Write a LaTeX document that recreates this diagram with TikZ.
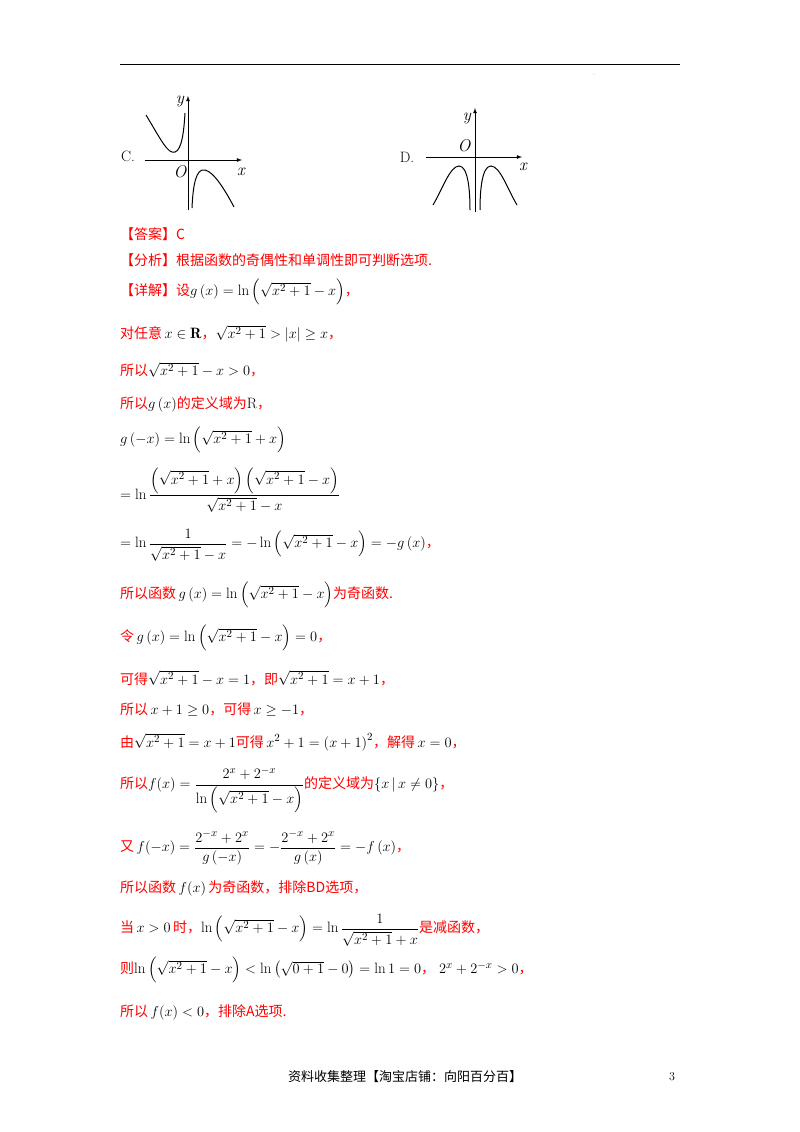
\documentclass[tikz,border=0pt]{standalone}
\usepackage{fontspec}
\usepackage{amsmath}
\newfontfamily\cjk{Noto Sans CJK SC}
\newcommand\rt[1]{\textcolor{red}{\cjk\fontsize{14}{17}\selectfont #1}}
\newcommand\kt[1]{{\cjk #1}}
\tikzset{ln/.style={anchor=west,inner sep=0pt,font=\fontsize{15}{18}\selectfont},
 ax/.style={-latex,line width=0.8pt}, cv/.style={line width=1pt},
 lab/.style={font=\fontsize{17}{19}\selectfont\itshape,inner sep=0pt}}
\begin{document}
\begin{tikzpicture}[x=1pt,y=-1pt]
\useasboundingbox (0,0) rectangle (800,1132);
\coordinate (h1) at (120,64); \coordinate (h2) at (680,64);
\draw[line width=0.8pt] (h1) -- (h2);
\node[inner sep=0pt,font=\tiny] (dot) at (594,75) {.};
% graph C
\coordinate (cy0) at (188,210); \coordinate (cy1) at (188,96);
\coordinate (cx0) at (145,160); \coordinate (cx1) at (242,160);
\draw[ax] (cy0) -- (cy1); \draw[ax] (cx0) -- (cx1);
\draw[cv] (146,115) .. controls (160,138) and (168,155) .. (175,152) .. controls (182,150) and (184,130) .. (185,113);
\draw[cv] (192,208) .. controls (193,185) and (196,168) .. (205,170) .. controls (214,172) and (225,190) .. (234,207);
\node[lab] (cyl) at (180,101) {y}; \node[lab] (cO) at (180,172) {O}; \node[lab] (cxl) at (241,172) {x};
\node[inner sep=0pt,font=\fontsize{15}{17}\selectfont] (cC) at (128,156) {C.};
% graph D
\coordinate (dy0) at (475,212); \coordinate (dy1) at (475,108);
\coordinate (dx0) at (426,157); \coordinate (dx1) at (522,157);
\draw[ax] (dy0) -- (dy1); \draw[ax] (dx0) -- (dx1);
\draw[cv] (433,205) .. controls (442,190) and (450,166) .. (459,166) .. controls (468,166) and (470,190) .. (470,210);
\draw[cv] (480,210) .. controls (480,190) and (482,166) .. (491,166) .. controls (500,166) and (508,190) .. (517,205);
\node[lab] (dyl) at (467,118) {y}; \node[lab] (dO) at (464,146) {O}; \node[lab] (dxl) at (523,167) {x};
\node[inner sep=0pt,font=\fontsize{15}{17}\selectfont] (dD) at (407,157) {D.};
% text
\node[ln] (t1) at (120,234) {\rt{【答案】C}};
\node[ln] (t2) at (120,260) {\rt{【分析】根据函数的奇偶性和单调性即可判断选项.}};
\node[ln] (t3) at (120,292) {\rt{【详解】设}$g\left(x\right)=\ln\left(\sqrt{x^2+1}-x\right)$\rt{，}};
\node[ln] (t4) at (120,334) {\rt{对任意}$\,x\in\mathbf{R}$\rt{，}$\sqrt{x^2+1}>\left|x\right|\ge x$\rt{，}};
\node[ln] (t5) at (120,370) {\rt{所以}$\sqrt{x^2+1}-x>0$\rt{，}};
\node[ln] (t6) at (120,404) {\rt{所以}$g\left(x\right)$\rt{的定义域为}$\mathrm{R}$\rt{，}};
\node[ln] (t7) at (120,440) {$g\left(-x\right)=\ln\left(\sqrt{x^2+1}+x\right)$};
\node[ln] (t8) at (120,490) {$=\ln\dfrac{\left(\sqrt{x^2+1}+x\right)\left(\sqrt{x^2+1}-x\right)}{\sqrt{x^2+1}-x}$};
\node[ln] (t9) at (120,545) {$=\ln\dfrac{1}{\sqrt{x^2+1}-x}=-\ln\left(\sqrt{x^2+1}-x\right)=-g\left(x\right)$\rt{，}};
\node[ln] (t10) at (120,595) {\rt{所以函数}$\,g\left(x\right)=\ln\left(\sqrt{x^2+1}-x\right)$\rt{为奇函数.}};
\node[ln] (t11) at (120,638) {\rt{令}$\,g\left(x\right)=\ln\left(\sqrt{x^2+1}-x\right)=0$\rt{，}};
\node[ln] (t12) at (120,678) {\rt{可得}$\sqrt{x^2+1}-x=1$\rt{，即}$\sqrt{x^2+1}=x+1$\rt{，}};
\node[ln] (t13) at (120,710) {\rt{所以}$\,x+1\ge0$\rt{，可得}$\,x\ge-1$\rt{，}};
\node[ln] (t14) at (120,742) {\rt{由}$\sqrt{x^2+1}=x+1$\rt{可得}$\,x^2+1=\left(x+1\right)^2$\rt{，解得}$\,x=0$\rt{，}};
\node[ln] (t15) at (120,790) {\rt{所以}$f(x)=\dfrac{2^x+2^{-x}}{\ln\left(\sqrt{x^2+1}-x\right)}$\rt{的定义域为}$\left\{x\,\middle|\,x\ne0\right\}$\rt{，}};
\node[ln] (t16) at (120,848) {\rt{又}$\,f(-x)=\dfrac{2^{-x}+2^x}{g\left(-x\right)}=-\dfrac{2^{-x}+2^x}{g\left(x\right)}=-f\left(x\right)$\rt{，}};
\node[ln] (t17) at (120,888) {\rt{所以函数}$\,f(x)\,$\rt{为奇函数，排除BD选项，}};
\node[ln] (t18) at (120,930) {\rt{当}$\,x>0\,$\rt{时，}$\ln\left(\sqrt{x^2+1}-x\right)=\ln\dfrac{1}{\sqrt{x^2+1}+x}$\rt{是减函数，}};
\node[ln] (t19) at (120,970) {\rt{则}$\ln\left(\sqrt{x^2+1}-x\right)<\ln\left(\sqrt{0+1}-0\right)=\ln1=0$\rt{，}$\;2^x+2^{-x}>0$\rt{，}};
\node[ln] (t20) at (120,1012) {\rt{所以}$\,f(x)<0$\rt{，排除A选项.}};
\node[inner sep=0pt,font=\fontsize{13}{15}\selectfont] (ft) at (405,1077) {\kt{资料收集整理【淘宝店铺：向阳百分百】}};
\node[inner sep=0pt,font=\fontsize{12}{14}\selectfont] (pg) at (672,1077) {3};
\end{tikzpicture}
\end{document}
